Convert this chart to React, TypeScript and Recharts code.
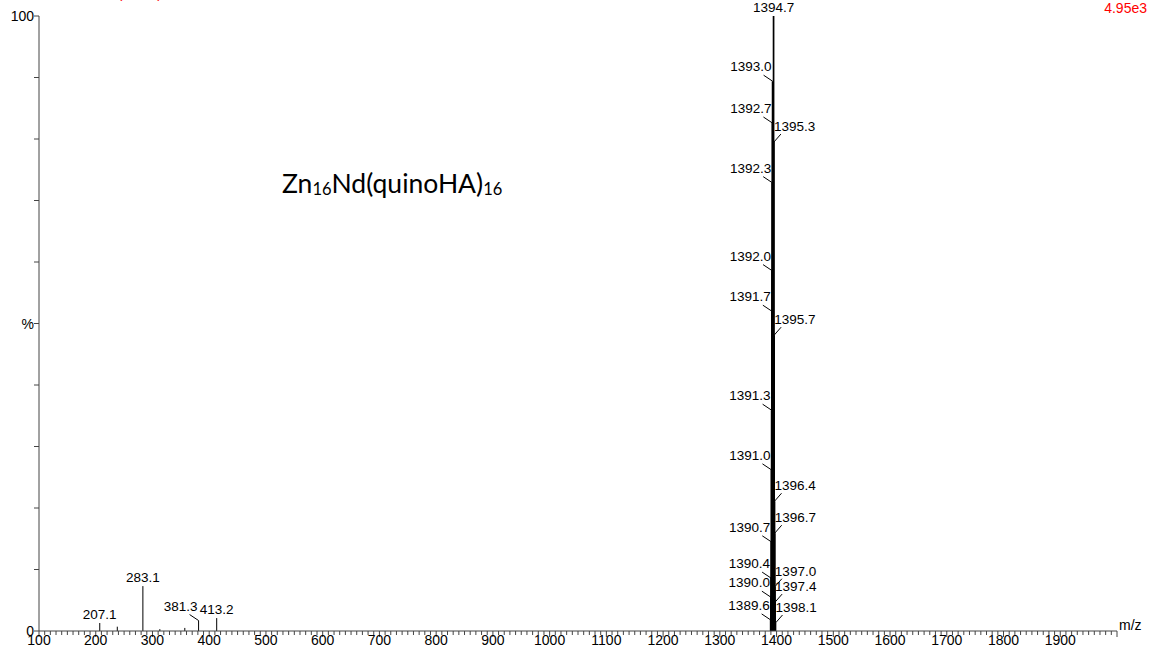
import { ComposedChart, Bar, XAxis, YAxis, LabelList } from 'recharts';

// m/z of each peak, relative intensity (%), and the label printed above it
const mzValues = [
  207.1, 238.0, 283.1, 313.0, 357.0, 381.3, 413.2,
  1389.6, 1390.0, 1390.4, 1390.7, 1391.0, 1391.3, 1391.7, 1392.0, 1392.3, 1392.7, 1393.0,
  1394.7, 1395.3, 1395.7, 1396.4, 1396.7, 1397.0, 1397.4, 1398.1,
];
const intensities = [
  1.3, 0.7, 7.3, 0.3, 0.5, 1.7, 2.1,
  1.8, 5.5, 8.6, 14.5, 26.2, 35.9, 52.0, 58.6, 72.9, 82.6, 89.4,
  100, 79.5, 48.1, 21.1, 15.9, 7.2, 4.7, 1.3,
];
const peakLabels = [
  '207.1', '', '283.1', '', '', '381.3', '413.2',
  '1389.6', '1390.0', '1390.4', '1390.7', '1391.0', '1391.3', '1391.7', '1392.0', '1392.3', '1392.7', '1393.0',
  '1394.7', '1395.3', '1395.7', '1396.4', '1396.7', '1397.0', '1397.4', '1398.1',
];

const xMajorTicks = [100, 200, 300, 400, 500, 600, 700, 800, 900, 1000, 1100, 1200, 1300, 1400, 1500, 1600, 1700, 1800, 1900];
const yTickLabels: Record<number, string> = { 0: '0', 50: '%', 100: '100' };

const basePeak = 1394.7;
const leftLeaders = ['381.3'];

const data = mzValues.map((mz, i) => ({ mz, intensity: intensities[i], label: peakLabels[i] }));

const xTicks: number[] = [];
for (let v = 100; v <= 2000; v += 10) xTicks.push(v);
const yTicks = [0, 10, 20, 30, 40, 50, 60, 70, 80, 90, 100];

const FONT = '"Liberation Sans", Arial, sans-serif';
const AXIS = '#444';

const PeakLine = (props: any) => {
  const { x, y, width, height, payload } = props;
  const cx = x + width / 2;
  const w = payload && payload.mz > 1000 ? 1.7 : 1;
  return <line x1={cx} y1={y} x2={cx} y2={y + height} stroke="#000" strokeWidth={w} />;
};

const PeakLabel = (props: any) => {
  const { x, y, width, value } = props;
  if (!value) return null;
  const mz = parseFloat(value);
  const px = x + width / 2;
  const py = y;
  let side = 'top';
  if ((mz > 1385 && mz < basePeak) || leftLeaders.includes(value)) side = 'left';
  else if (mz > basePeak && mz < 1400) side = 'right';
  const common = { fontSize: 13.5, fontFamily: FONT, fill: '#000' };
  if (side === 'left') {
    return (
      <g>
        <line x1={px - 9} y1={py - 6} x2={px} y2={py} stroke="#000" strokeWidth={1} />
        <text x={px - 1} y={py - 10} textAnchor="end" {...common}>{value}</text>
      </g>
    );
  }
  if (side === 'right') {
    return (
      <g>
        <line x1={px} y1={py} x2={px + 7} y2={py - 8} stroke="#000" strokeWidth={1} />
        <text x={px} y={py - 11} textAnchor="start" {...common}>{value}</text>
      </g>
    );
  }
  return (
    <text x={px} y={py - 4} textAnchor="middle" {...common}>{value}</text>
  );
};

const XTick = (props: any) => {
  const { x, y, payload } = props;
  const v = payload.value;
  const major = v % 100 === 0;
  return (
    <g>
      <line x1={x} y1={y} x2={x} y2={y + (major ? 6 : 4)} stroke={AXIS} strokeWidth={1} />
      {major && xMajorTicks.includes(v) && (
        <text x={x} y={y + 14} textAnchor="middle" fontSize={14} fontFamily={FONT} fill="#000">{v}</text>
      )}
    </g>
  );
};

const YTick = (props: any) => {
  const { x, y, payload } = props;
  const v = payload.value;
  const text = yTickLabels[v];
  return (
    <g>
      <line x1={x - 5} y1={y} x2={x} y2={y} stroke={AXIS} strokeWidth={1} />
      {text && (
        <text x={x - 5} y={y + 5} textAnchor="end" fontSize={14} fontFamily={FONT} fill="#000">{text}</text>
      )}
    </g>
  );
};

export default function App() {
  return (
    <div style={{ position: 'absolute', left: 0, top: 0, width: 1150, height: 660, background: '#fff' }}>
      <ComposedChart width={1150} height={660} data={data} margin={{ top: 16, right: 33, left: 0, bottom: 0 }}>
        <XAxis
          type="number"
          dataKey="mz"
          domain={[100, 2000]}
          ticks={xTicks}
          interval={0}
          tick={<XTick />}
          tickLine={false}
          tickSize={0}
          tickMargin={0}
          height={29}
          stroke={AXIS}
          allowDataOverflow
        />
        <YAxis
          type="number"
          domain={[0, 100]}
          ticks={yTicks}
          interval={0}
          tick={<YTick />}
          tickLine={false}
          tickSize={0}
          tickMargin={0}
          width={39}
          stroke={AXIS}
        />
        <Bar dataKey="intensity" barSize={1} shape={<PeakLine />} isAnimationActive={false}>
          <LabelList dataKey="label" content={<PeakLabel />} />
        </Bar>
      </ComposedChart>
      <svg width={1150} height={660} style={{ position: 'absolute', left: 0, top: 0, pointerEvents: 'none' }}>
        <text x={162} y={-2} textAnchor="end" fontSize={14} fontFamily={FONT} fill="#ff0000">Scan ES+ (37.21)</text>
        <text x={1147} y={13} textAnchor="end" fontSize={14} fontFamily={FONT} fill="#ff0000">4.95e3</text>
        <text x={1119} y={630} fontSize={14} fontFamily={FONT} fill="#000">m/z</text>
        <text x={282} y={193} fontSize={26.5} fontFamily="Lato, sans-serif" fill="#000">
          Zn<tspan fontSize={16.5} dy={2}>16</tspan><tspan dy={-2}>Nd(quinoHA)</tspan><tspan fontSize={16.5} dy={2}>16</tspan>
        </text>
      </svg>
    </div>
  );
}
